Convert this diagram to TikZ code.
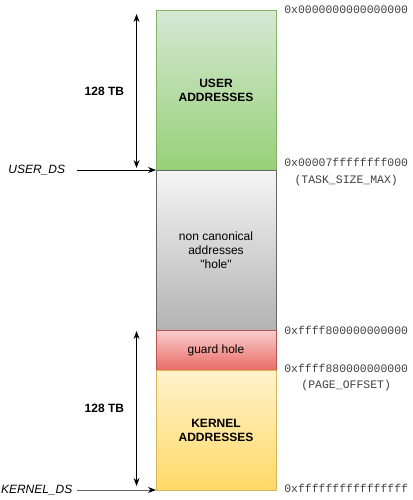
\documentclass[tikz,border=0pt]{standalone}
\usepackage{fontspec}
\setmainfont{Liberation Sans}[Ligatures=TeXOff]
\newfontfamily\addrfont{Liberation Mono}
\usetikzlibrary{positioning,arrows.meta}

\definecolor{usertop}{HTML}{D5E8D4}
\definecolor{userbot}{HTML}{97D077}
\definecolor{userline}{HTML}{82B366}
\definecolor{holetop}{HTML}{F5F5F5}
\definecolor{holebot}{HTML}{B3B3B3}
\definecolor{holeline}{HTML}{666666}
\definecolor{guardtop}{HTML}{F8CECC}
\definecolor{guardbot}{HTML}{EA6B66}
\definecolor{guardline}{HTML}{B85450}
\definecolor{kerneltop}{HTML}{FFF2CC}
\definecolor{kernelbot}{HTML}{FFD966}
\definecolor{kernelline}{HTML}{D6B656}

\begin{document}
\begin{tikzpicture}[x=0.75pt,y=-0.75pt,
  region/.style={draw, line width=0.75pt, inner sep=0pt, outer sep=0pt,
    minimum width=90pt, align=center, font=\fontsize{9}{10.5}\selectfont},
  bold region/.style={region, font=\fontsize{9}{10.5}\selectfont\bfseries},
  addr/.style={inner sep=0pt, text=black!75, text height=6pt, text depth=2pt,
    font=\addrfont\fontsize{8.6}{10}\selectfont},
  side/.style={inner sep=0pt, minimum width=60pt, font=\fontsize{9}{11}\selectfont\itshape},
  spanlabel/.style={inner sep=0pt, font=\fontsize{9}{11}\selectfont\bfseries},
  ptr/.style={-{Stealth[length=6pt,width=4.5pt,color=black]}, line width=0.75pt},
  spanarrow/.style={{Stealth[length=6pt,width=4.5pt]}-{Stealth[length=6pt,width=4.5pt]}, line width=0.75pt}]

\useasboundingbox (0,0) rectangle (412,500);

\node[bold region, minimum height=120pt, top color=usertop, bottom color=userbot, draw=userline]
  (user) at (216,90) {USER\\ADDRESSES};
\node[region, below=0pt of user, minimum height=120pt, top color=holetop, bottom color=holebot, draw=holeline]
  (hole) {non canonical\\addresses\\"hole"};
\node[region, below=0pt of hole, minimum height=30pt, top color=guardtop, bottom color=guardbot, draw=guardline]
  (guard) {guard hole};
\node[bold region, below=0pt of guard, minimum height=90pt, top color=kerneltop, bottom color=kernelbot, draw=kernelline]
  (kernel) {KERNEL\\ADDRESSES};

\node[addr, right=6pt of user.north east, yshift=-0.75pt] (zeroaddr) {0x0000000000000000};
\node[addr, right=6pt of user.south east, yshift=5pt] (taskaddr) {0x00007ffffffff000};
\node[addr, below=4.75pt of taskaddr] (taskname) {(TASK\_SIZE\_MAX)};
\node[addr, right=6pt of hole.south east, yshift=-1pt] (holeaddr) {0xffff800000000000};
\node[addr, right=6pt of guard.south east] (pageaddr) {0xffff880000000000};
\node[addr, below=3.25pt of pageaddr] (pagename) {(PAGE\_OFFSET)};
\node[addr, right=6pt of kernel.south east] (lastaddr) {0xffffffffffffffff};

\node[side, left=59.25pt of user.south west] (userds) {USER\_DS};
\node[side, left=59.25pt of kernel.south west] (kernelds) {KERNEL\_DS};
\draw[ptr] (userds) -- (user.south west);
\draw[ptr, draw=black!60] (kernelds) -- (kernel.south west);

\coordinate (userspantop) at ([xshift=-14.6pt,yshift=-3pt]user.north west);
\coordinate (userspanbot) at ([xshift=-14.6pt,yshift=1.5pt]user.south west);
\draw[spanarrow] (userspantop) -- (userspanbot) node[midway, left=9pt, spanlabel] (usersize) {128 TB};

\coordinate (kernelspantop) at ([xshift=-14.6pt,yshift=-0.75pt]guard.north west);
\coordinate (kernelspanbot) at ([xshift=-14.6pt,yshift=3pt]kernel.south west);
\draw[spanarrow] (kernelspantop) -- (kernelspanbot) node[midway, left=9pt, spanlabel] (kernelsize) {128 TB};

\end{tikzpicture}
\end{document}
